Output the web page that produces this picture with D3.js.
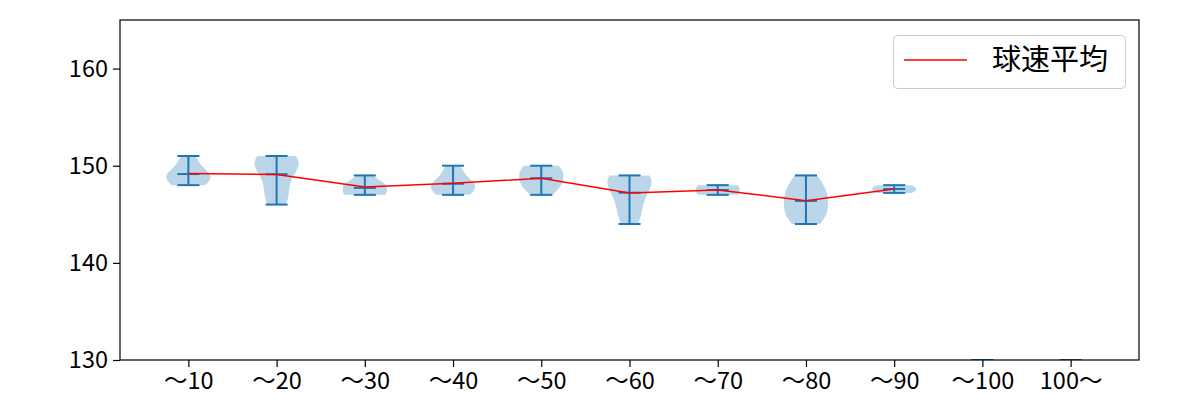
<!DOCTYPE html>
<html>
<head>
<meta charset="utf-8">
<script src="https://cdn.jsdelivr.net/npm/d3@7"></script>
<style>
  html, body { margin: 0; padding: 0; background: #fff; }
  svg { display: block; }
  text { font-family: "Noto Sans CJK JP", "Noto Sans", sans-serif; fill: #000; }
</style>
</head>
<body>
<svg id="chart" width="1200" height="400"></svg>
<script>
// ---- data ----
const categories = ["〜10", "〜20", "〜30", "〜40", "〜50", "〜60", "〜70", "〜80", "〜90", "〜100", "100〜"];
const speeds1  = [148, 148, 149, 149, 149, 150, 151];
const speeds2  = [146, 147, 148, 150, 150, 151, 151, 150];
const speeds3  = [147, 147, 147, 148, 148, 149, 148];
const speeds4  = [147, 147, 148, 148, 148, 149, 150];
const speeds5  = [147, 148, 148, 149, 149, 150, 150];
const speeds6  = [144, 145, 146, 147, 148, 149, 149, 149, 148];
const speeds7  = [147, 148];
const speeds8  = [144, 145, 145, 146, 147, 147, 148, 149];
const speeds9  = [147.2, 147.6, 148];
const speeds10 = [126, 128, 130];
const speeds11 = [126, 128, 130];
const speedSets = [speeds1, speeds2, speeds3, speeds4, speeds5, speeds6, speeds7, speeds8, speeds9, speeds10, speeds11];
const avgSpeed = [149.2, 149.1, 147.8, 148.2, 148.7, 147.2, 147.5, 146.4, 147.6, null, null];
const yTicks = [130, 140, 150, 160];
const legendLabel = "球速平均";

// ---- layout ----
const svg = d3.select("#chart");
const L = 120, R = 1139, T = 20, B = 360;
const x = d3.scaleLinear().domain([0.225, categories.length + 0.775]).range([L, R]);
const y = d3.scaleLinear().domain([130, 165]).range([B, T]);
const violinWidth = 0.5;

svg.append("defs").append("clipPath").attr("id", "plotclip")
  .append("rect").attr("x", L).attr("y", T).attr("width", R - L).attr("height", B - T);

const plot = svg.append("g").attr("clip-path", "url(#plotclip)");

// matplotlib-like gaussian KDE (Scott's rule)
function kde(data) {
  const n = data.length;
  const sd = d3.deviation(data);
  const h = Math.pow(n, -1 / 5) * sd;
  const lo = d3.min(data), hi = d3.max(data);
  const pts = d3.range(100).map(i => lo + (hi - lo) * i / 99);
  return pts.map(v => [v, d3.mean(data, d => Math.exp(-0.5 * ((v - d) / h) ** 2))]);
}

speedSets.forEach((data, i) => {
  const pos = i + 1;
  const dens = kde(data);
  const maxD = d3.max(dens, d => d[1]);
  const half = violinWidth / 2;
  const area = d3.area()
    .y(d => y(d[0]))
    .x0(d => x(pos - half * d[1] / maxD))
    .x1(d => x(pos + half * d[1] / maxD));
  plot.append("path").datum(dens).attr("d", area)
    .attr("fill", "#1f77b4").attr("fill-opacity", 0.3).attr("stroke", "none");

  const cap = violinWidth / 4;
  const mn = d3.min(data), mx = d3.max(data), me = d3.mean(data);
  const g = plot.append("g").attr("stroke", "#1f77b4").attr("stroke-width", 2);
  [mn, mx, me].forEach(v => {
    g.append("line").attr("x1", x(pos - cap)).attr("x2", x(pos + cap))
      .attr("y1", y(v)).attr("y2", y(v));
  });
  g.append("line").attr("x1", x(pos)).attr("x2", x(pos)).attr("y1", y(mn)).attr("y2", y(mx));
});

// mean line
const lineGen = d3.line().defined(d => d[1] != null).x(d => x(d[0])).y(d => y(d[1]));
plot.append("path").datum(avgSpeed.map((v, i) => [i + 1, v]))
  .attr("d", lineGen).attr("fill", "none").attr("stroke", "#ff0000").attr("stroke-width", 1.5);

// axes
const yAxis = d3.axisLeft(y).tickValues(yTicks).tickSize(7).tickPadding(5).tickFormat(d3.format("d"));
const yg = svg.append("g").attr("transform", `translate(${L},0)`).call(yAxis);
const xAxis = d3.axisBottom(x).tickValues(d3.range(1, categories.length + 1)).tickSize(7).tickPadding(5)
  .tickFormat(d => categories[d - 1]);
const xg = svg.append("g").attr("transform", `translate(0,${B})`).call(xAxis);
[yg, xg].forEach(g => {
  g.select(".domain").remove();
  g.selectAll(".tick line").attr("stroke", "#000").attr("stroke-width", 1.2);
  g.selectAll(".tick text").attr("font-size", 23.5).attr("fill", "#000")
    .style("font-family", '"Noto Sans CJK JP", sans-serif');
});

// frame
svg.append("rect").attr("x", L).attr("y", T).attr("width", R - L).attr("height", B - T)
  .attr("fill", "none").attr("stroke", "#000").attr("stroke-width", 1.2);

// legend
const lg = svg.append("g");
lg.append("rect").attr("x", 893.5).attr("y", 35.5).attr("width", 232).attr("height", 53).attr("rx", 4)
  .attr("fill", "#fff").attr("fill-opacity", 0.8).attr("stroke", "#cccccc").attr("stroke-width", 1);
lg.append("line").attr("x1", 904).attr("x2", 967).attr("y1", 60).attr("y2", 60)
  .attr("stroke", "#ff0000").attr("stroke-width", 1.5);
lg.append("text").attr("x", 992).attr("y", 60).attr("dy", "0.35em").attr("font-size", 29)
  .text(legendLabel);
</script>
</body>
</html>
